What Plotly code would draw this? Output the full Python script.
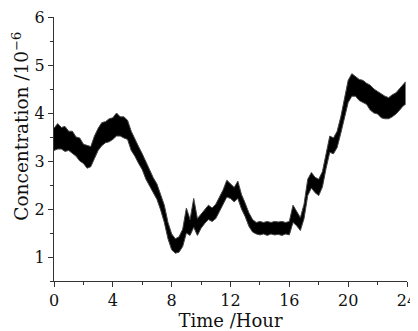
import plotly.graph_objects as go

hours = [0.00, 0.25, 0.50, 0.75, 1.00, 1.25, 1.50, 1.75, 2.00, 2.25, 2.50, 2.75,
         3.00, 3.25, 3.50, 3.75, 4.00, 4.25, 4.50, 4.75, 5.00, 5.25, 5.50, 5.75,
         6.00, 6.25, 6.50, 6.75, 7.00, 7.25, 7.50, 7.75, 8.00, 8.25, 8.50, 8.75,
         9.00, 9.25, 9.50, 9.75, 10.00, 10.25, 10.50, 10.75, 11.00, 11.25, 11.50, 11.75,
         12.00, 12.25, 12.50, 12.75, 13.00, 13.25, 13.50, 13.75, 14.00, 14.25, 14.50, 14.75,
         15.00, 15.25, 15.50, 15.75, 16.00, 16.25, 16.50, 16.75, 17.00, 17.25, 17.50, 17.75,
         18.00, 18.25, 18.50, 18.75, 19.00, 19.25, 19.50, 19.75, 20.00, 20.25, 20.50, 20.75,
         21.00, 21.25, 21.50, 21.75, 22.00, 22.25, 22.50, 22.75, 23.00, 23.25, 23.50, 23.75,
         23.90]

conc_high = [3.68, 3.78, 3.70, 3.72, 3.62, 3.62, 3.50, 3.48, 3.35, 3.32, 3.30, 3.52,
             3.68, 3.80, 3.82, 3.88, 3.90, 4.00, 3.92, 3.92, 3.85, 3.62, 3.45, 3.30,
             3.15, 2.98, 2.82, 2.65, 2.52, 2.32, 2.08, 1.72, 1.48, 1.38, 1.42, 1.58,
             2.02, 1.78, 2.22, 1.80, 1.90, 2.00, 2.08, 2.02, 2.10, 2.25, 2.40, 2.60,
             2.52, 2.45, 2.58, 2.30, 2.12, 1.92, 1.78, 1.72, 1.74, 1.72, 1.74, 1.72,
             1.74, 1.73, 1.74, 1.72, 1.74, 2.08, 1.95, 1.82, 2.10, 2.62, 2.76, 2.66,
             2.62, 2.78, 3.15, 3.52, 3.48, 3.62, 3.92, 4.28, 4.68, 4.82, 4.75, 4.70,
             4.68, 4.62, 4.58, 4.50, 4.45, 4.40, 4.35, 4.32, 4.38, 4.42, 4.50, 4.60,
             4.65]

conc_low = [3.22, 3.25, 3.25, 3.20, 3.22, 3.15, 3.10, 3.00, 2.95, 2.85, 2.88, 3.05,
            3.22, 3.32, 3.38, 3.40, 3.45, 3.52, 3.52, 3.48, 3.45, 3.22, 3.10, 2.95,
            2.82, 2.62, 2.48, 2.32, 2.20, 1.98, 1.72, 1.38, 1.15, 1.08, 1.10, 1.22,
            1.50, 1.45, 1.62, 1.45, 1.60, 1.70, 1.78, 1.74, 1.80, 1.95, 2.10, 2.25,
            2.22, 2.15, 2.22, 2.00, 1.84, 1.64, 1.52, 1.48, 1.46, 1.48, 1.45, 1.48,
            1.46, 1.47, 1.45, 1.48, 1.46, 1.72, 1.65, 1.55, 1.80, 2.28, 2.44, 2.34,
            2.28, 2.46, 2.85, 3.18, 3.15, 3.28, 3.58, 3.92, 4.22, 4.35, 4.35, 4.26,
            4.22, 4.18, 4.06, 4.00, 3.98, 3.90, 3.88, 3.88, 3.92, 3.98, 4.06, 4.15,
            4.18]

x_ticks = [0, 4, 8, 12, 16, 20, 24]
y_ticks = [1, 2, 3, 4, 5, 6]

font_family = "DejaVu Serif, Liberation Serif, serif"

fig = go.Figure()
fig.add_trace(go.Scatter(x=hours, y=conc_low, mode="lines",
                         line=dict(color="#444444", width=1), showlegend=False,
                         hoverinfo="skip"))
fig.add_trace(go.Scatter(x=hours, y=conc_high, mode="lines", fill="tonexty",
                         fillcolor="#000000",
                         line=dict(color="#444444", width=1), showlegend=False,
                         hoverinfo="skip"))

axis_common = dict(
    showgrid=False, zeroline=False, showline=True, linecolor="#333333", linewidth=1,
    ticks="outside", ticklen=5, tickcolor="#333333", tickwidth=1,
    tickfont=dict(family=font_family, size=16, color="#111111"),
    mirror=False, automargin=False, ticklabeloverflow="allow",
)

fig.update_xaxes(range=[0, 24], tickvals=x_ticks, ticktext=[str(v) for v in x_ticks],
                 minor=dict(dtick=2, ticklen=3, tickcolor="#333333", ticks="outside"),
                 title=dict(text="Time /Hour", font=dict(family=font_family, size=18, color="#111111"),
                            standoff=0),
                 **axis_common)
fig.update_yaxes(range=[0.5, 6], tickvals=y_ticks, ticktext=[str(v) for v in y_ticks],
                 minor=dict(dtick=0.5, ticklen=3, tickcolor="#333333", ticks="outside"),
                 **axis_common)

# y-axis title as a rotated annotation so it can sit slightly above centre, as in the original
fig.add_annotation(text="Concentration /10<sup>−6</sup>", textangle=-90,
                   xref="paper", yref="paper", x=-0.096, y=0.585,
                   xanchor="center", yanchor="middle", showarrow=False,
                   font=dict(family=font_family, size=18.5, color="#111111"))

# The page body has an 8px margin, so the figure is sized to fit the window.
fig.update_layout(width=410, height=323, margin=dict(l=46, r=11, t=9, b=50),
                  paper_bgcolor="white", plot_bgcolor="white")

fig.write_html("out.html")
